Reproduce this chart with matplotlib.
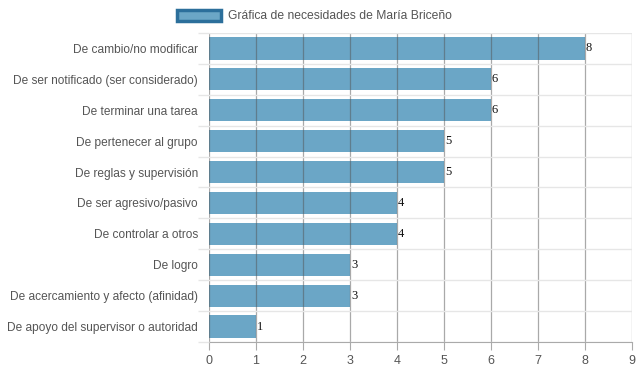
import matplotlib
matplotlib.use("Agg")
import matplotlib.pyplot as plt
import numpy as np
from matplotlib.patches import Patch

categories = [
    "De cambio/no modificar",
    "De ser notificado (ser considerado)",
    "De terminar una tarea",
    "De pertenecer al grupo",
    "De reglas y supervisión",
    "De ser agresivo/pasivo",
    "De controlar a otros",
    "De logro",
    "De acercamiento y afecto (afinidad)",
    "De apoyo del supervisor o autoridad",
]
values = [8, 6, 6, 5, 5, 4, 4, 3, 3, 1]
x_ticks = list(range(0, 10))
legend_label = "Gráfica de necesidades de María Briceño"

plt.rcParams['font.family'] = ['Liberation Sans', 'DejaVu Sans']
fig = plt.figure(figsize=(6.39, 3.72), dpi=100)
ax = fig.add_axes([209/639, 1-342/372, (632-209)/639, (342-33)/372])

bar_color = "#6ba6c6"
n = len(categories)
y = np.arange(n)
ax.barh(y, values, height=0.72, color=bar_color, zorder=2)
for yi, v in zip(y, values):
    ax.text(v + 0.02, yi, str(v), va="center", ha="left", fontsize=9,
            family=["Liberation Serif", "DejaVu Serif"], color="#111", zorder=4)

ax.set_ylim(n - 0.5, -0.5)
ax.set_xlim(0, 9)
ax.set_xticks(x_ticks)
ax.set_xticklabels([str(t) for t in x_ticks])
ax.set_yticks(y)
ax.set_yticklabels(categories)
ax.set_yticks(np.arange(-0.5, n, 1), minor=True)

ax.grid(axis="x", color="#555555", alpha=0.5, linewidth=0.9, zorder=3)
ax.grid(axis="y", which="minor", color="#e6e6e6", linewidth=1.0, zorder=1)
ax.set_axisbelow(False)
for s in ["top", "right", "left"]:
    ax.spines[s].set_visible(False)
ax.spines["bottom"].set_color("#aaaaaa")

ax.tick_params(axis="y", which="major", length=0, pad=8, labelsize=8.55, labelcolor="#555555")
ax.tick_params(axis="y", which="minor", length=8, color="#e6e6e6", width=1.0)
ax.tick_params(axis="x", length=6, color="#aaaaaa", labelsize=9, labelcolor="#555555", pad=3)

handle = Patch(facecolor=bar_color, edgecolor="#2c6f9b", linewidth=2.5)
fig.legend([handle], [legend_label], loc="center", bbox_to_anchor=(0.492, 1 - 16/372),
           frameon=False, fontsize=8.7, labelcolor="#555555", handlelength=3.6, handleheight=1.1,
           handletextpad=0.6)

fig.savefig("out.png", dpi=100)
